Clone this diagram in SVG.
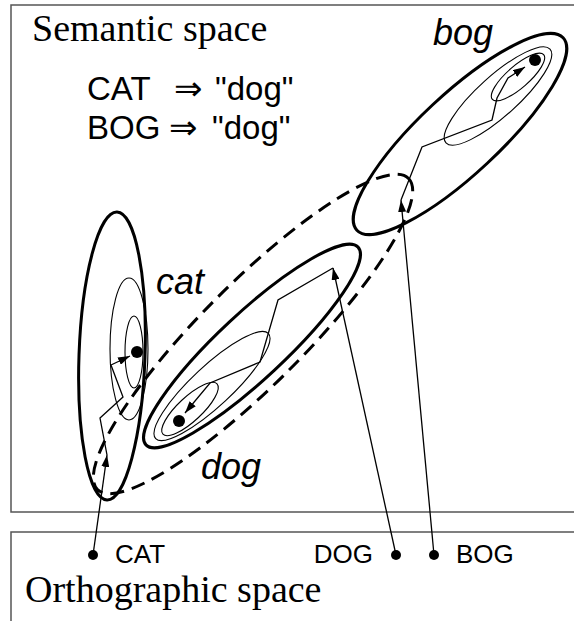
<svg xmlns="http://www.w3.org/2000/svg" width="574" height="621" viewBox="0 0 574 621">
<style>
.box{fill:none;stroke:#555;stroke-width:1.5}
.bold{fill:none;stroke:#000;stroke-width:3}
.thin{fill:none;stroke:#000;stroke-width:1.1}
.dash{fill:none;stroke:#000;stroke-width:3;stroke-dasharray:14 8}
.path{fill:none;stroke:#000;stroke-width:1.3}
.dot{fill:#000}
.title{font-family:"Liberation Serif","Times New Roman",serif;font-size:38px;fill:#000}
.rule{font-family:"Liberation Sans",Arial,sans-serif;font-size:33px;fill:#000}
.arrow{font-family:"DejaVu Sans",sans-serif;font-size:34px;fill:#000}
.lab{font-family:"Liberation Sans",Arial,sans-serif;font-size:36px;font-style:italic;fill:#000}
.word{font-family:"Liberation Sans",Arial,sans-serif;font-size:26px;fill:#000}
</style>
<defs>
<marker id="ah" viewBox="0 0 12 8" markerWidth="12" markerHeight="8" refX="12" refY="4" orient="auto" markerUnits="userSpaceOnUse">
<path d="M0,0 L12,4 L0,8 z" fill="#000"/>
</marker>
</defs>
<g id="semantic-space">
<path class="box" d="M574,5 H11 V512 H574"/>
<text class="title" x="32" y="41">Semantic space</text>
<text class="rule" y="100"><tspan x="87">CAT</tspan><tspan class="arrow" x="174">⇒</tspan><tspan x="215">"dog"</tspan></text>
<text class="rule" y="139"><tspan x="87">BOG</tspan><tspan class="arrow" x="169">⇒</tspan><tspan x="212">"dog"</tspan></text>
</g>
<g id="orthographic-space">
<path class="box" d="M574,532 H11 V621"/>
<text class="title" x="25" y="602">Orthographic space</text>
</g>
<g id="region-cat">
<ellipse class="bold" cx="112" cy="356" rx="33" ry="144" transform="rotate(2 112 356)"/>
<ellipse class="thin" cx="129" cy="349" rx="19" ry="71"/>
<ellipse class="thin" cx="134" cy="352" rx="9" ry="36"/>
<circle class="dot" cx="137" cy="352" r="6"/>
<text class="lab" x="156" y="294">cat</text>
</g>
<g id="region-dog-broad">
<ellipse class="dash" cx="253" cy="334" rx="220" ry="51" transform="rotate(-45 253 334)"/>
</g>
<g id="region-dog">
<ellipse class="bold" cx="252" cy="346" rx="145" ry="33" transform="rotate(-43 252 346)"/>
<ellipse class="thin" cx="212" cy="386" rx="77" ry="20" transform="rotate(-43 212 386)"/>
<ellipse class="thin" cx="190" cy="409" rx="37" ry="12" transform="rotate(-43 190 409)"/>
<circle class="dot" cx="179" cy="421" r="6"/>
<text class="lab" x="201" y="479">dog</text>
</g>
<g id="region-bog">
<ellipse class="bold" cx="460" cy="134" rx="141" ry="40" transform="rotate(-43 460 134)"/>
<ellipse class="thin" cx="498" cy="96" rx="70" ry="20" transform="rotate(-42 498 96)"/>
<ellipse class="thin" cx="518" cy="77" rx="34" ry="11" transform="rotate(-41 518 77)"/>
<circle class="dot" cx="535" cy="60" r="6"/>
<text class="lab" x="433" y="45">bog</text>
</g>
<g id="word-cat">
<circle class="dot" cx="93" cy="555" r="5"/>
<text class="word" x="115" y="563">CAT</text>
</g>
<g id="word-dog">
<circle class="dot" cx="396" cy="555" r="5"/>
<text class="word" x="373" y="563" text-anchor="end">DOG</text>
</g>
<g id="word-bog">
<circle class="dot" cx="434" cy="555" r="5"/>
<text class="word" x="456" y="563">BOG</text>
</g>
<g id="connectors">
<line class="path" x1="93" y1="555" x2="107" y2="455" marker-end="url(#ah)"/>
<line class="path" x1="396" y1="555" x2="333" y2="268" marker-end="url(#ah)"/>
<line class="path" x1="434" y1="555" x2="401" y2="200" marker-end="url(#ah)"/>
<polyline class="path" points="107,455 100,418 123,397 111,365 130,356" marker-end="url(#ah)"/>
<polyline class="path" points="333,268 278,300 260,362 210,383 185,413" marker-end="url(#ah)"/>
<polyline class="path" points="401,200 422,147 492,120 497,98 508,78 525,67" marker-end="url(#ah)"/>
</g>
</svg>
